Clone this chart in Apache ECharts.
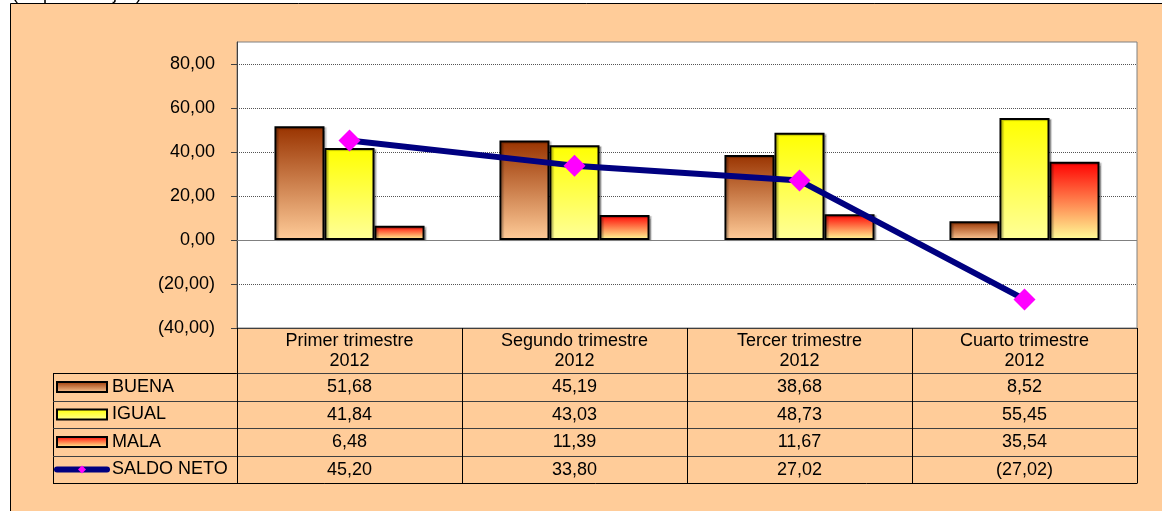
<!DOCTYPE html>
<html>
<head>
<meta charset="utf-8">
<script src="https://cdn.jsdelivr.net/npm/echarts@6/dist/echarts.min.js"></script>
<style>
  html, body { margin: 0; padding: 0; background: #fff; }
  #chart { width: 1162px; height: 511px; }
</style>
</head>
<body>
<div id="chart"></div>
<script>
// datos
const trimestres = ['Primer trimestre', 'Segundo trimestre', 'Tercer trimestre', 'Cuarto trimestre'];
const anio = '2012';
const buena = [51.68, 45.19, 38.68, 8.52];
const igual = [41.84, 43.03, 48.73, 55.45];
const mala = [6.48, 11.39, 11.67, 35.54];
const saldoNeto = [45.20, 33.80, 27.02, -27.02];
const nombres = ['BUENA', 'IGUAL', 'MALA', 'SALDO NETO'];
const yTicks = [-40, -20, 0, 20, 40, 60, 80];

const FONT = 'Liberation Sans, Arial, sans-serif';
const categorias = trimestres.map(t => t + '\n' + anio);

function fmt(v) {
  const s = Math.abs(v).toFixed(2).replace('.', ',');
  return v < 0 ? '(' + s + ')' : s;
}

function grad(top, bottom) {
  return new echarts.graphic.LinearGradient(0, 0, 0, 1, [
    { offset: 0, color: top },
    { offset: 1, color: bottom }
  ]);
}

// filas de la tabla de datos (debajo del grafico)
const filas = [buena, igual, mala, saldoNeto];
const rowOffsets = [45, 73, 100, 128];
const rowHeights = [28, 27, 28, 27];

const tablaAxes = filas.map((vals, i) => ({
  type: 'category',
  gridIndex: 0,
  position: 'bottom',
  offset: rowOffsets[i],
  data: categorias,
  axisLine: { show: true, onZero: false, lineStyle: { color: '#404040', width: 1 } },
  axisTick: { show: true, length: rowHeights[i], lineStyle: { color: '#000' } },
  axisLabel: {
    interval: 0, margin: 5, fontSize: 18, lineHeight: 18, color: '#000', fontFamily: FONT,
    formatter: (v, idx) => fmt(vals[idx])
  },
  splitLine: { show: false }
}));

const chart = echarts.init(document.getElementById('chart'));

const barShadow = { shadowColor: 'rgba(0,0,0,0.25)', shadowOffsetX: 2, shadowOffsetY: 1, shadowBlur: 1 };

chart.setOption({
  animation: false,
  backgroundColor: '#fff',
  textStyle: { fontFamily: FONT },
  graphic: [
    {
      type: 'rect', z: -10, silent: true,
      shape: { x: 10.5, y: 3.5, width: 1160, height: 520 },
      style: { fill: '#FFCC99', stroke: '#000', lineWidth: 1 }
    },
    {
      type: 'text', silent: true, x: 12, y: 3, z: 10,
      style: { text: '(en porcentajes)', fontSize: 18, fontFamily: FONT, fill: '#000', verticalAlign: 'bottom' }
    },
    // columna de leyenda de la tabla
    { type: 'line', silent: true, shape: { x1: 53.5, y1: 373, x2: 53.5, y2: 483.5 }, style: { stroke: '#000', lineWidth: 1 } },
    { type: 'line', silent: true, shape: { x1: 53, y1: 373.5, x2: 237, y2: 373.5 }, style: { stroke: '#000', lineWidth: 1 } },
    { type: 'line', silent: true, shape: { x1: 53, y1: 401.5, x2: 237, y2: 401.5 }, style: { stroke: '#404040', lineWidth: 1 } },
    { type: 'line', silent: true, shape: { x1: 53, y1: 428.5, x2: 237, y2: 428.5 }, style: { stroke: '#404040', lineWidth: 1 } },
    { type: 'line', silent: true, shape: { x1: 53, y1: 456.5, x2: 237, y2: 456.5 }, style: { stroke: '#404040', lineWidth: 1 } },
    { type: 'line', silent: true, shape: { x1: 53, y1: 483.5, x2: 1137.5, y2: 483.5 }, style: { stroke: '#000', lineWidth: 1 } }
  ],
  grid: {
    left: 237, right: 25, top: 42, bottom: 183,
    show: true, backgroundColor: '#fff', borderColor: '#808080', borderWidth: 1
  },
  legend: {
    orient: 'vertical',
    left: 54, top: 378,
    padding: 0,
    itemWidth: 50, itemHeight: 10, itemGap: 9.5,
    selectedMode: false,
    textStyle: { fontSize: 18, lineHeight: 18, color: '#000', fontFamily: FONT },
    data: [
      { name: nombres[0], icon: 'rect' },
      { name: nombres[1], icon: 'rect' },
      { name: nombres[2], icon: 'rect' },
      { name: nombres[3], lineStyle: { width: 6, color: '#000080', cap: 'round' } }
    ]
  },
  xAxis: [
    {
      type: 'category',
      gridIndex: 0,
      position: 'bottom',
      data: categorias,
      axisLine: { show: true, onZero: false, lineStyle: { color: '#404040', width: 1 } },
      axisTick: { show: true, length: 45, lineStyle: { color: '#000' } },
      axisLabel: { interval: 0, margin: 3, fontSize: 18, lineHeight: 20, color: '#000', fontFamily: FONT },
      splitLine: { show: false }
    }
  ].concat(tablaAxes),
  yAxis: {
    type: 'value',
    min: -40, max: 90, interval: 20,
    axisLine: { show: true, lineStyle: { color: '#404040', width: 1 } },
    axisTick: { show: true, length: 6, customValues: yTicks, lineStyle: { color: '#404040' } },
    axisLabel: {
      margin: 22, fontSize: 18, color: '#000', fontFamily: FONT, customValues: yTicks,
      formatter: v => (v > 80 ? '' : fmt(v))
    },
    splitLine: { show: true, lineStyle: { color: '#555', type: 'dotted', width: 1 } }
  },
  series: [
    {
      name: nombres[0], type: 'bar', xAxisIndex: 0, data: buena,
      barGap: '0%', barCategoryGap: '33.3%',
      itemStyle: Object.assign({ color: grad('#993300', '#FFCC99'), borderColor: '#000', borderWidth: 2 }, barShadow),
      markLine: {
        silent: true, symbol: 'none', label: { show: false },
        lineStyle: { color: '#808080', type: 'solid', width: 1 },
        data: [{ yAxis: 0 }]
      }
    },
    {
      name: nombres[1], type: 'bar', xAxisIndex: 0, data: igual,
      barGap: '0%', barCategoryGap: '33.3%',
      itemStyle: Object.assign({ color: grad('#FFFF00', '#FFFF99'), borderColor: '#000', borderWidth: 2 }, barShadow)
    },
    {
      name: nombres[2], type: 'bar', xAxisIndex: 0, data: mala,
      barGap: '0%', barCategoryGap: '33.3%',
      itemStyle: Object.assign({ color: grad('#FF0000', '#FFFF99'), borderColor: '#000', borderWidth: 2 }, barShadow)
    },
    {
      name: nombres[3], type: 'line', xAxisIndex: 0, data: saldoNeto,
      z: 5,
      symbol: 'diamond', symbolSize: 22,
      lineStyle: { color: '#000080', width: 6 },
      itemStyle: { color: '#FF00FF' }
    }
  ]
});
</script>
</body>
</html>
